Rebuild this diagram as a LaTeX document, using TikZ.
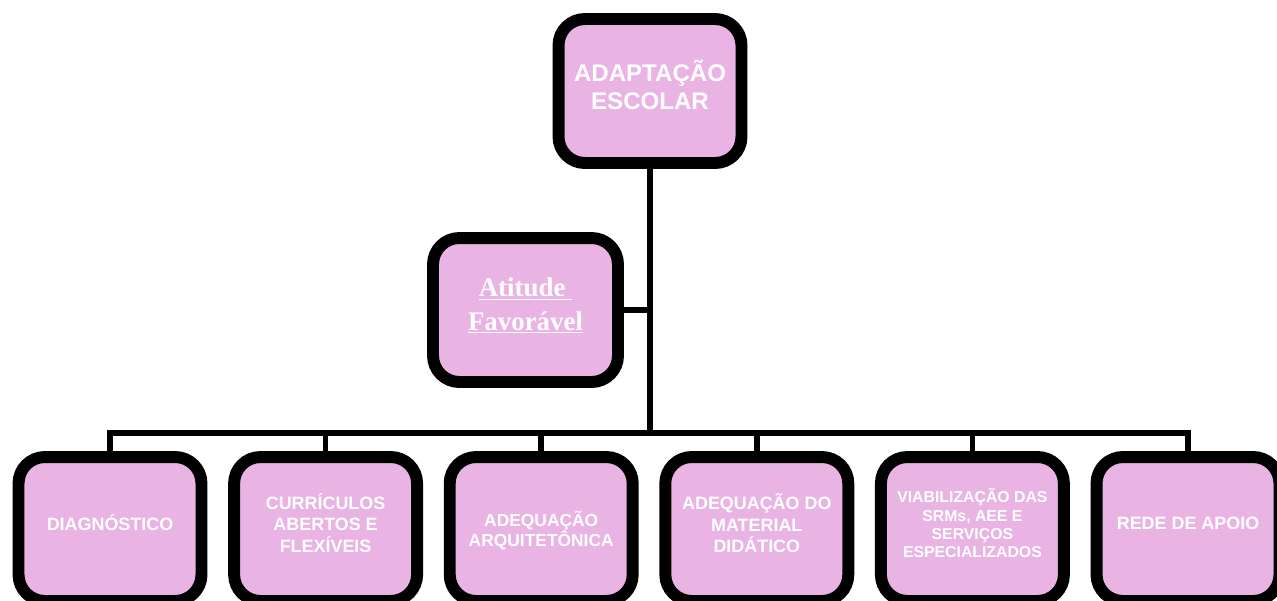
\documentclass[tikz,border=0pt]{standalone}
\usepackage{fontspec}
\setmainfont{Liberation Sans}
\newfontfamily\serifbold{Liberation Serif}
\usetikzlibrary{positioning}
\definecolor{rosa}{RGB}{233,179,227}
\tikzset{
    caixa/.style={draw=black, fill=rosa, line width=6.8pt, rounded corners=15pt,
        minimum width=3.66cm, minimum height=2.88cm, outer sep=0pt, inner sep=2pt,
        align=center, text=white, text depth=6.8pt},
    ligacao/.style={line width=3.1pt}
}

\begin{document}
\begin{tikzpicture}[x=0.02cm, y=-0.02cm]
    \path[use as bounding box, clip] (0,0) rectangle (1277,600);
    \node[caixa, font=\bfseries\fontsize{13.7pt}{15.8pt}\selectfont] (adaptacao) at (650,91) {ADAPTAÇÃO\\ESCOLAR};
    \node[caixa, minimum width=3.7cm, font=\serifbold\bfseries\fontsize{15.3pt}{19pt}\selectfont] (atitude) at (525.5,310) {\underline{Atitude\ }\\\underline{Favorável}};
    \foreach \nome/\tam/\esp/\prof/\texto [count=\i from 0] in {
        diag/10.2/12.2/6.8/{DIAGNÓSTICO},
        curr/10.2/12.2/6.8/{CURRÍCULOS\\ABERTOS E\\FLEXÍVEIS},
        arq/9.9/11.3/0/{ADEQUAÇÃO\\ARQUITETÔNICA},
        mat/10.2/12.2/6.8/{ADEQUAÇÃO DO\\MATERIAL\\DIDÁTICO},
        srm/9/10.3/6.8/{VIABILIZAÇÃO DAS\\SRMs, AEE E\\SERVIÇOS\\ESPECIALIZADOS},
        rede/10.2/12.2/6.8/{REDE DE APOIO}}
        \node[caixa, text depth=\prof pt, font=\bfseries\fontsize{\tam pt}{\esp pt}\selectfont] (\nome) at ({110+215.6*\i},529) {\texto};
    \coordinate (barra) at (650,433);
    \draw[ligacao] (adaptacao.south) -- (barra);
    \draw[ligacao] (atitude.east) -- (atitude.east -| barra);
    \draw[ligacao] (diag.north) |- (barra) -| (rede.north);
    \foreach \nome in {curr,arq,mat,srm}
        \draw[ligacao] (\nome.north) -- (\nome.north |- barra);
\end{tikzpicture}
\end{document}
